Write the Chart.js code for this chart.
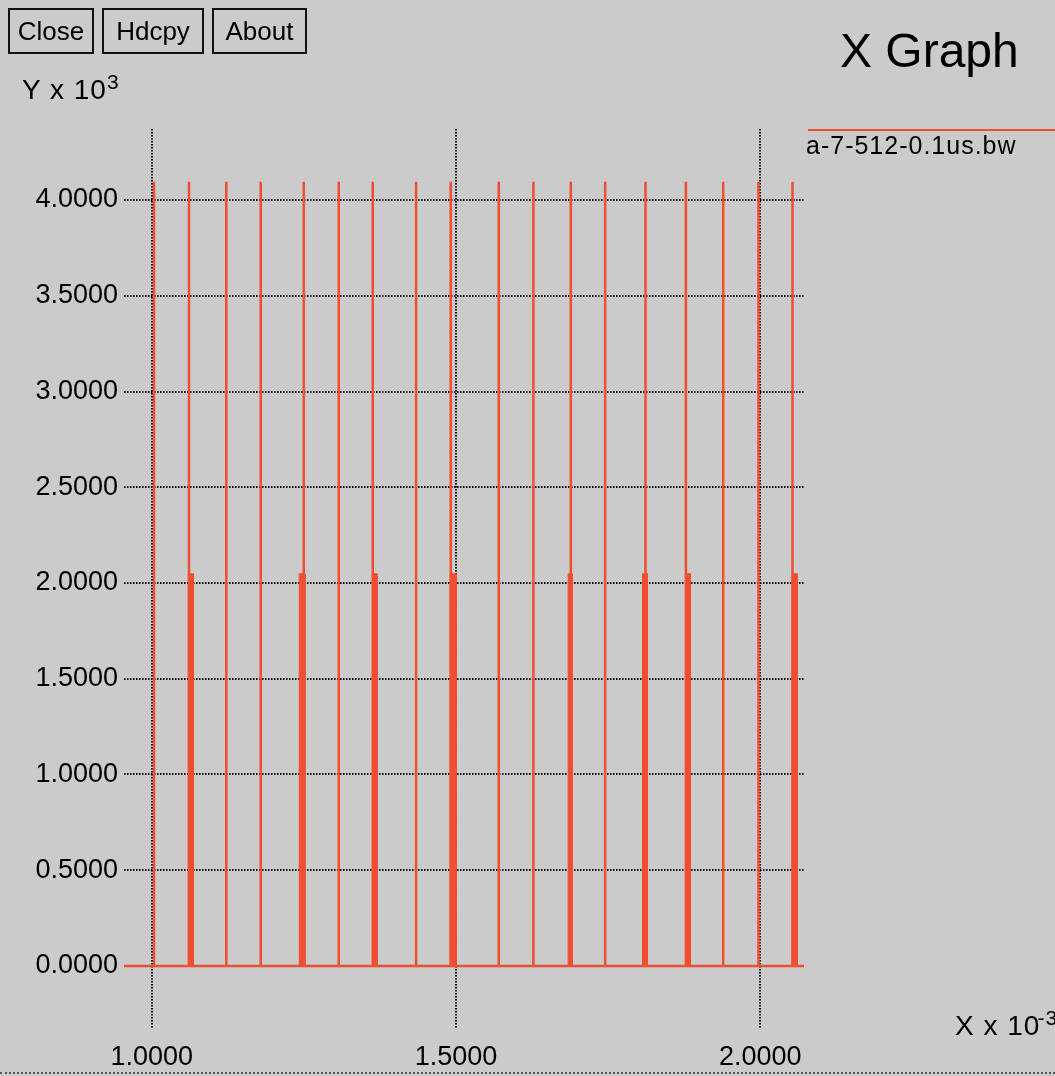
<!DOCTYPE html>
<html>
<head>
<meta charset="utf-8">
<script src="https://cdn.jsdelivr.net/npm/chart.js@4.4.1/dist/chart.umd.min.js"></script>
<style>
    html, body { margin: 0; padding: 0; }
    body {
        width: 1055px; height: 1076px; overflow: hidden; position: relative;
        background: #cbcbcb;
        font-family: "Liberation Sans", Arial, sans-serif; color: #000;
    }
    #chart { position: absolute; left: 0; top: 0; }
    .btn {
        position: absolute; top: 8px; height: 46px;
        border: 2px solid #111; box-sizing: border-box;
        font-size: 26px; line-height: 42px; text-align: center;
    }
    .txt { position: absolute; white-space: nowrap; line-height: 1; }
    .txt sup { font-size: 21px; position: relative; top: -5px; vertical-align: top; }
    #legendLine { position: absolute; left: 808px; top: 129px; width: 247px; height: 2px; background: #f04e30; }
    #bottomEdge { position: absolute; left: 0; top: 1072px; width: 1055px; border-top: 2px dotted #555; }
</style>
</head>
<body>
<canvas id="chart" width="1055" height="1076"></canvas>

<div class="btn" style="left:8px; width:86px;">Close</div>
<div class="btn" style="left:102px; width:102px;">Hdcpy</div>
<div class="btn" style="left:212px; width:95px;">About</div>

<div class="txt" style="left:840px; top:27px; font-size:48px;">X Graph</div>
<div class="txt" style="left:22px; top:76px; font-size:28px; letter-spacing:1px;">Y x 10<sup>3</sup></div>
<div id="legendLine"></div>
<div class="txt" style="left:806px; top:133px; font-size:25px; letter-spacing:1px;">a-7-512-0.1us.bw</div>
<div class="txt" style="left:955px; top:1012px; font-size:28px; letter-spacing:1px;">X x 10<sup style="margin-left:-3px;">-3</sup></div>
<div id="bottomEdge"></div>

<script>
// Axis ranges (X x 10^-3, Y x 10^3)
const xMin = 0.9545;
const xMax = 2.072;
const yMin = -0.324;
const yMax = 4.371;

const xTicks = [1.0, 1.5, 2.0];
const yTicks = [0.0, 0.5, 1.0, 1.5, 2.0, 2.5, 3.0, 3.5, 4.0];

// Tall spikes
const spikeX = [1.0038, 1.0613, 1.1226, 1.1792, 1.2499, 1.3074, 1.3633, 1.4345, 1.4915,
                1.5704, 1.6273, 1.6888, 1.7452, 1.8115, 1.8779, 1.9392, 1.9972, 2.0531];
const spikeTop = 4.096;

// Half-height blocks next to some spikes
const blockStart = [1.0602, 1.2426, 1.3638, 1.4904, 1.6844, 1.8066, 1.8788, 2.0526];
const blockEnd   = [1.0684, 1.2520, 1.3704, 1.5003, 1.6910, 1.8148, 1.8854, 2.0608];
const blockTop = 2.048;

const seriesColor = '#f04e30';

// Build the polylines from the arrays above
const spikePoints = [{ x: xMin, y: 0 }];
spikeX.forEach(x => {
    spikePoints.push({ x: x, y: 0 }, { x: x, y: spikeTop }, { x: x, y: 0 });
});
spikePoints.push({ x: xMax, y: 0 });

const blockPoints = [];
blockStart.forEach((s, i) => {
    const e = blockEnd[i];
    blockPoints.push({ x: s, y: 0 }, { x: s, y: blockTop }, { x: e, y: blockTop }, { x: e, y: 0 });
});

const tickFont = { family: '"Liberation Sans", Arial, sans-serif', size: 27 };

const ctx = document.getElementById('chart').getContext('2d');
new Chart(ctx, {
    type: 'line',
    data: {
        datasets: [
            {
                label: 'a-7-512-0.1us.bw',
                data: spikePoints,
                borderColor: seriesColor,
                borderWidth: 2.5,
                pointRadius: 0,
                tension: 0,
                fill: false
            },
            {
                label: 'blocks',
                data: blockPoints,
                borderColor: seriesColor,
                backgroundColor: seriesColor,
                borderWidth: 1,
                pointRadius: 0,
                tension: 0,
                fill: 'origin'
            }
        ]
    },
    options: {
        responsive: false,
        animation: false,
        events: [],
        layout: { padding: { left: 0, top: 129, right: 251, bottom: 0 } },
        plugins: {
            legend: { display: false },
            tooltip: { enabled: false }
        },
        scales: {
            x: {
                type: 'linear',
                min: xMin,
                max: xMax,
                afterBuildTicks: (scale) => { scale.ticks = xTicks.map(v => ({ value: v })); },
                afterFit: (scale) => { scale.height = 48; },
                ticks: {
                    callback: (v) => v.toFixed(4),
                    font: tickFont,
                    color: '#000',
                    padding: 13,
                    maxRotation: 0,
                    autoSkip: false
                },
                grid: { color: '#000', lineWidth: 2, drawTicks: false },
                border: { display: false, dash: [1.5, 1.5] }
            },
            y: {
                type: 'linear',
                min: yMin,
                max: yMax,
                afterBuildTicks: (scale) => { scale.ticks = yTicks.map(v => ({ value: v })); },
                afterFit: (scale) => { scale.width = 124; },
                ticks: {
                    callback: (v) => v.toFixed(4),
                    font: tickFont,
                    color: '#000',
                    padding: 6,
                    autoSkip: false
                },
                grid: { color: '#000', lineWidth: 2, drawTicks: false },
                border: { display: false, dash: [1.5, 1.5] }
            }
        }
    }
});
</script>
</body>
</html>
